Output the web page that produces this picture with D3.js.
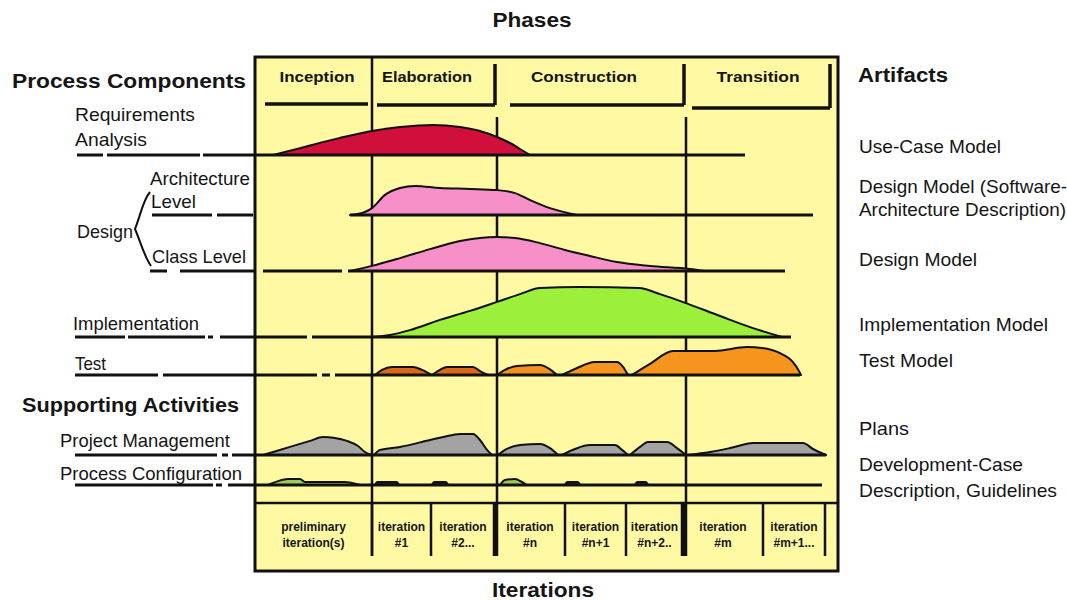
<!DOCTYPE html>
<html>
<head>
<meta charset="utf-8">
<script src="https://cdn.jsdelivr.net/npm/d3@7"></script>
<style>
	body { margin: 0; background: #fff; }
	svg { display: block; font-family: "Liberation Sans", Arial, sans-serif; }
	text { fill: #151515; }
</style>
</head>
<body>
<svg></svg>
<script>
// time runs in project units, 0 = start, 58.3 = right edge of the frame
const phases = ["Inception", "Elaboration", "Construction", "Transition"];
const phaseBounds = [0, 11.7, 24.2, 43.1, 58.3];

const iterations = [
	["preliminary", "iteration(s)"],
	["iteration", "#1"],
	["iteration", "#2..."],
	["iteration", "#n"],
	["iteration", "#n+1"],
	["iteration", "#n+2.."],
	["iteration", "#m"],
	["iteration", "#m+1..."],
];
const iterationBounds = [0, 11.7, 17.6, 24, 31, 37.1, 42.8, 50.8, 57];

const rows = ["requirements", "architecture", "classLevel", "implementation", "test", "projectMgmt", "processConfig"];

const headings = ["Phases", "Process Components", "Supporting Activities", "Artifacts", "Iterations"];
const activityLabels = ["Requirements", "Analysis", "Architecture", "Level", "Design", "Class Level", "Implementation", "Test", "Project Management", "Process Configuration"];
const artifactLabels = ["Use-Case Model", "Design Model (Software-", "Architecture Description)", "Design Model", "Implementation Model", "Test Model", "Plans", "Development-Case", "Description, Guidelines"];

// effort humps: [time, effort]
const requirementsHump = [[1.8, 0], [4.5, 2.3], [8.5, 5.7], [11.7, 8], [14.5, 9.3], [17.8, 10], [20.5, 9.3], [22.5, 8], [24.2, 6], [25.5, 4], [26.5, 2], [27.5, 0]];
const architectureHump = [[9.5, 0], [11, 1], [11.7, 2.3], [13, 6.7], [14.5, 9], [16, 9.7], [18.5, 9], [21.5, 8.7], [24.2, 8.3], [26, 7.3], [27.5, 5], [29.5, 2.3], [32.2, 0]];
const classLevelHump = [[9.5, 0], [11.7, 1.7], [14.5, 4.3], [17.5, 7.3], [20.5, 10], [22.5, 11], [24.2, 11.3], [26, 11], [28.5, 9.3], [31, 7], [33.5, 5], [36.2, 3], [39.5, 1.7], [43.5, 0.7], [45, 0]];
const implementationHump = [[11.7, 0], [13.5, 0.7], [15.5, 2.3], [18.5, 5.7], [21.5, 8.7], [24.2, 11.7], [26.5, 14.3], [28.5, 16.3], [32.5, 16.7], [38.4, 16.3], [40.5, 14.3], [43.1, 11.3], [46.5, 7], [49.5, 3.3], [52.7, 0]];
const testHumps = [
	[[12, 0], [12.7, 1.7], [13.7, 2.7], [15.8, 2.7], [16.7, 1.7], [17.7, 0]],
	[[17.7, 0], [18.5, 1.7], [19.2, 2.7], [21.8, 2.7], [22.5, 1.3], [23.3, 0]],
	[[24.2, 0], [25, 1.7], [26.2, 3], [28.5, 3.3], [29.3, 2.3], [30.2, 0]],
	[[30.7, 0], [32, 2], [34, 4.3], [36.2, 4.3], [36.8, 2.7], [37.3, 0]],
	[[37.7, 0], [39.5, 3.7], [41.8, 8], [46, 8], [49.2, 9.3], [50.7, 9], [52.5, 7.3], [53.8, 4.3], [54.5, 0.7], [54.6, 0]],
];
const projectMgmtHumps = [
	[[0.8, 0], [3.5, 2.7], [5.5, 4.7], [6.8, 6], [8, 5.7], [9.2, 4.7], [10.3, 3], [11, 1], [11.7, 0]],
	[[11.9, 0], [12.5, 1.7], [14.5, 2.7], [17.5, 5], [19.8, 6.7], [20.5, 7], [21.8, 7], [22.5, 5], [23.2, 1.7], [23.7, 0]],
	[[24.3, 0], [25, 1.7], [26.5, 3.3], [28.5, 3.7], [29.5, 2.3], [30.3, 0]],
	[[30.7, 0], [32, 2], [33.5, 3.3], [36, 3.3], [36.7, 1.7], [37.3, 0]],
	[[37.5, 0], [38.5, 2.7], [39.3, 4.3], [41.2, 4.3], [42.2, 2.3], [43.1, 0]],
	[[43.3, 0], [45.5, 1], [47.5, 2.3], [49.8, 4], [54.8, 4], [55.8, 2], [57.1, 0]],
];
const processConfigHumps = [
	[[1.3, 0], [2.3, 1.3], [3.3, 2], [4.5, 2], [5, 1], [9, 1], [10.5, 0]],
	[[12, 0], [12.2, 1], [14.2, 1], [14.4, 0]],
	[[17.7, 0], [17.9, 1], [19.1, 1], [19.3, 0]],
	[[24.5, 0], [25, 1.7], [26, 2], [26.7, 1], [27.2, 0]],
	[[31, 0], [31.2, 1], [32.3, 1], [32.5, 0]],
	[[38, 0], [38.2, 1], [39.1, 1], [39.3, 0]],
];

// base lines of each row, [from, to] in time units (negative = left of frame)
const requirementsLine = [[-17.8, -15.2], [-14.8, -5.5], [-5.2, 49]];
const architectureLine = [[-10.3, -4.3], [-3.8, -0.2], [9.5, 55.8]];
const classLevelLine = [[-10.5, -8.8], [-7.5, 0], [0.8, 8.7], [9.3, 53]];
const implementationLine = [[-18, -13], [-12.7, -5], [-4.7, -4.2], [-3.5, 5.2], [5.7, 53.6]];
const testLine = [[-18, -9.7], [-9.2, 6.2], [6.7, 7.5], [8, 54.5]];
const projectMgmtLine = [[-18, -3.8], [-3.3, -2.7], [-2.3, 57.1]];
const processConfigLine = [[-18, -4.2], [-3.9, -3.3], [-2.7, 56.7]];

const svg = d3.select("svg");
svg.attr("width", 1067).attr("height", 600);

const x = d3.scaleLinear().domain([0, 58.3]).range([255, 838]);
const baseY = d3.scaleOrdinal().domain(rows).range([155, 215, 271, 337, 375, 455, 485]);
const effort = d3.scaleLinear().domain([0, 20]).range([0, 60]);

const frameTop = 57;
const frameBottom = 571;
const iterTop = 503;
const iterBottom = 556;

svg.append("rect")
	.attr("x", x(0))
	.attr("y", frameTop)
	.attr("width", x(58.3) - x(0))
	.attr("height", frameBottom - frameTop)
	.attr("fill", "#FFF9A3")
	.attr("stroke", "#111")
	.attr("stroke-width", 3);

// phase header boxes
const headerPad = [[10, 4], [5, 2], [13, 2], [6, 8]];
const headerBottom = [104, 105, 105, 108];
const phaseLabelX = [317, 427, 584, 758];
const phaseLabelW = [75, 90, 106, 83];

const header = svg.append("g").attr("class", "header");
phases.forEach((p, i) => {
	const x0 = x(phaseBounds[i]) + headerPad[i][0];
	const x1 = x(phaseBounds[i + 1]) - headerPad[i][1];
	header.append("line")
		.attr("x1", x0).attr("x2", x1)
		.attr("y1", headerBottom[i]).attr("y2", headerBottom[i])
		.attr("stroke", "#111").attr("stroke-width", 3.5);
	if (i > 0)
		header.append("line")
			.attr("x1", x1).attr("x2", x1)
			.attr("y1", 64).attr("y2", headerBottom[i])
			.attr("stroke", "#111").attr("stroke-width", 3.5);
	header.append("text")
		.attr("x", phaseLabelX[i])
		.attr("y", 82)
		.attr("text-anchor", "middle")
		.attr("font-size", 15)
		.attr("font-weight", "bold")
		.attr("textLength", phaseLabelW[i])
		.attr("lengthAdjust", "spacingAndGlyphs")
		.text(p);
});

// phase dividers
svg.append("g")
	.selectAll("line")
	.data(phaseBounds.slice(1, 4))
	.join("line")
	.attr("x1", (d) => x(d))
	.attr("x2", (d) => x(d))
	.attr("y1", (d, i) => (i === 0 ? frameTop : 117))
	.attr("y2", iterBottom)
	.attr("stroke", "#111")
	.attr("stroke-width", 2.5);

// humps
const humps = svg.append("g").attr("class", "humps");
function hump(row, pts, fill) {
	const area = d3
		.area()
		.x((d) => x(d[0]))
		.y0(baseY(row))
		.y1((d) => baseY(row) - effort(d[1]))
		.curve(d3.curveMonotoneX);
	humps.append("path")
		.datum(pts)
		.attr("d", area)
		.attr("fill", fill)
		.attr("stroke", "#111")
		.attr("stroke-width", 2)
		.attr("stroke-linejoin", "round");
}

hump("requirements", requirementsHump, "#D0103A");
hump("architecture", architectureHump, "#F78FC8");
hump("classLevel", classLevelHump, "#F78FC8");
hump("implementation", implementationHump, "#9CF03C");
const testFills = ["#D9681C", "#D9681C", "#F39020", "#F7941D", "#F7941D"];
testHumps.forEach((h, i) => hump("test", h, testFills[i]));
projectMgmtHumps.forEach((h) => hump("projectMgmt", h, "#A3A3A3"));
const configFills = ["#9CCB5C", "#222", "#222", "#9CCB5C", "#222", "#222"];
processConfigHumps.forEach((h, i) => hump("processConfig", h, configFills[i]));

// base lines
const lines = svg.append("g").attr("class", "baselines");
function baseline(row, segs) {
	lines.selectAll(null)
		.data(segs)
		.join("line")
		.attr("x1", (d) => x(d[0]))
		.attr("x2", (d) => x(d[1]))
		.attr("y1", baseY(row))
		.attr("y2", baseY(row))
		.attr("stroke", "#111")
		.attr("stroke-width", 3);
}
baseline("requirements", requirementsLine);
baseline("architecture", architectureLine);
baseline("classLevel", classLevelLine);
baseline("implementation", implementationLine);
baseline("test", testLine);
baseline("projectMgmt", projectMgmtLine);
baseline("processConfig", processConfigLine);

// iterations strip
const iter = svg.append("g").attr("class", "iterations");
iter.append("line")
	.attr("x1", x(0)).attr("x2", x(58.3))
	.attr("y1", iterTop).attr("y2", iterTop)
	.attr("stroke", "#111").attr("stroke-width", 2.5);
iter.selectAll("line.div")
	.data(iterationBounds.slice(1))
	.join("line")
	.attr("class", "div")
	.attr("x1", (d) => x(d))
	.attr("x2", (d) => x(d))
	.attr("y1", iterTop)
	.attr("y2", iterBottom)
	.attr("stroke", "#111")
	.attr("stroke-width", (d) => (d === 24 || d === 42.8 ? 4.5 : 2.5));
iterations.forEach((lbl, i) => {
	const cx = x((iterationBounds[i] + iterationBounds[i + 1]) / 2);
	lbl.forEach((s, j) => {
		iter.append("text")
			.attr("x", cx)
			.attr("y", 531 + j * 16)
			.attr("text-anchor", "middle")
			.attr("font-size", 12)
			.attr("font-weight", "bold")
			.text(s);
	});
});

// labels
function label(txt, x0, y0, w, size, weight, anchor) {
	svg.append("text")
		.attr("x", x0)
		.attr("y", y0)
		.attr("font-size", size)
		.attr("font-weight", weight)
		.attr("text-anchor", anchor)
		.attr("textLength", w)
		.attr("lengthAdjust", "spacingAndGlyphs")
		.text(txt);
}

const headingPos = [[532, 27, 79, "middle"], [12, 88, 234, "start"], [22, 412, 217, "start"], [858, 82, 90, "start"], [543, 597, 102, "middle"]];
headings.forEach((h, i) => label(h, headingPos[i][0], headingPos[i][1], headingPos[i][2], 20, "bold", headingPos[i][3]));

const activityPos = [[75, 121, 120], [75, 146, 72], [150, 185, 100], [151, 208, 45], [77, 238, 56], [152, 263, 94], [73, 330, 126], [75, 370, 31], [60, 447, 170], [60, 480, 182]];
activityLabels.forEach((t, i) => label(t, activityPos[i][0], activityPos[i][1], activityPos[i][2], 19, "normal", "start"));

const artifactPos = [[153, 142], [193, 208], [216, 207], [266, 118], [331, 189], [367, 94], [435, 50], [471, 164], [497, 198]];
artifactLabels.forEach((t, i) => label(t, 859, artifactPos[i][0], artifactPos[i][1], 19, "normal", "start"));

// brace joining Architecture Level and Class Level to Design
svg.append("path")
	.attr("d", "M150,192 C143,200 141,214 135,229 C141,243 144,256 151,266")
	.attr("fill", "none")
	.attr("stroke", "#111")
	.attr("stroke-width", 2);
</script>
</body>
</html>
